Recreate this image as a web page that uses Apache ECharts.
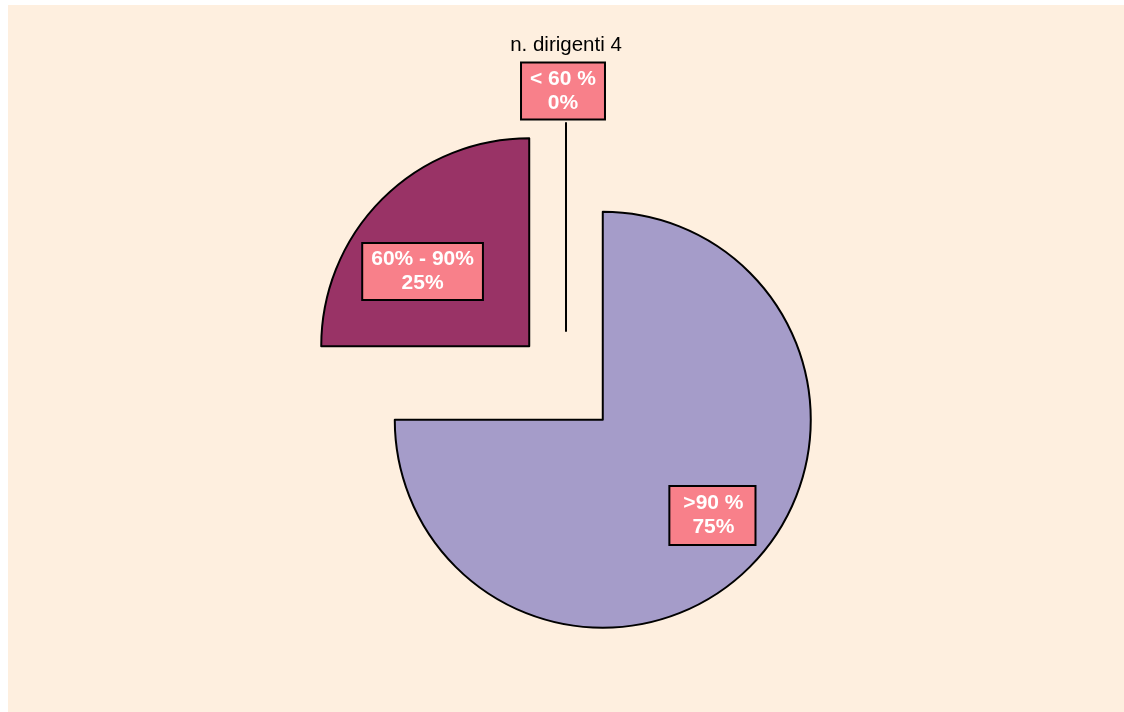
<!DOCTYPE html>
<html>
<head>
<meta charset="utf-8">
<script src="https://cdn.jsdelivr.net/npm/echarts@6/dist/echarts.min.js"></script>
<style>
  html, body { margin: 0; padding: 0; background: #ffffff; width: 1124px; height: 712px; overflow: hidden; }
  #chart { position: absolute; left: 8px; top: 5px; width: 1116px; height: 707px; }
</style>
</head>
<body>
<div id="chart"></div>
<script>
// ---- data ----
const titleText = 'n. dirigenti 4';
const categories = ['< 60 %', '60% - 90%', '>90 %'];
const values = [0, 25, 75];

// ---- styling (kept separate from data) ----
const sliceColors = ['#F8808A', '#993366', '#A59CC9'];
const labelShifts = [[-3, -133], [-31, 1], [34, 20]];
const labelPaddings = [[4, 8, 3, 8], [4, 8, 3, 8], [5, 11, 4, 13]];

const chart = echarts.init(document.getElementById('chart'), null, { renderer: 'canvas' });

const seriesData = categories.map((name, i) => ({
  name: name,
  value: values[i],
  selected: true,
  itemStyle: { color: sliceColors[i] },
  label: { padding: labelPaddings[i] }
}));

chart.setOption({
  backgroundColor: '#FEEFDF',
  animation: false,
  title: {
    text: titleText,
    left: 'center',
    top: 25,
    textStyle: { fontFamily: 'Liberation Sans, Arial, sans-serif', fontSize: 20.5, fontWeight: 'normal', color: '#000000' }
  },
  series: [{
    type: 'pie',
    center: [558, 378],
    radius: [0, 208],
    startAngle: 90,
    clockwise: false,
    selectedMode: 'multiple',
    selectedOffset: 52,
    avoidLabelOverlap: false,
    stillShowZeroSum: true,
    itemStyle: { borderColor: '#000000', borderWidth: 2 },
    select: { itemStyle: { borderColor: '#000000', borderWidth: 2 } },
    emphasis: { disabled: true, scale: false },
    labelLine: { show: false },
    label: {
      show: true,
      position: 'inside',
      formatter: '{b}\n{d}%',
      fontFamily: 'Liberation Sans, Arial, sans-serif',
      fontSize: 21,
      fontWeight: 'bold',
      lineHeight: 24,
      color: '#ffffff',
      backgroundColor: '#F8808A',
      borderColor: '#000000',
      borderWidth: 2,
      padding: [4, 8, 3, 8],
      align: 'center'
    },
    labelLayout: function (params) {
      const s = labelShifts[params.dataIndex];
      return { dx: s[0], dy: s[1] };
    },
    data: seriesData
  }]
});
</script>
</body>
</html>
